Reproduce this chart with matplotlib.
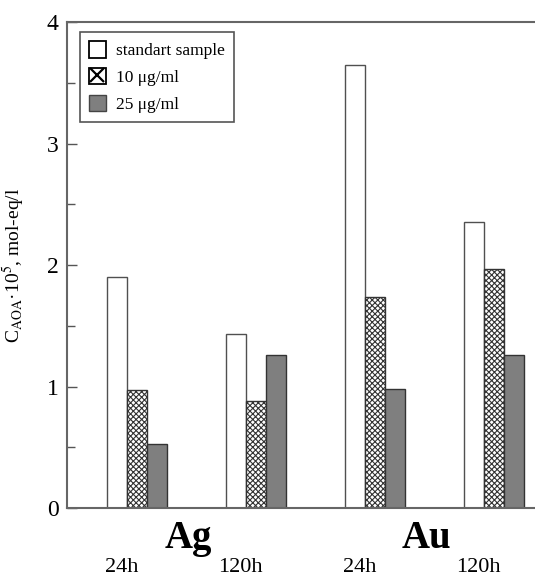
import numpy as np
import matplotlib
matplotlib.use("Agg")
import matplotlib.pyplot as plt
from matplotlib.patches import Patch
from matplotlib.lines import Line2D
from matplotlib.legend_handler import HandlerTuple

plt.rcParams['font.family'] = ['Liberation Serif', 'DejaVu Serif']
plt.rcParams['mathtext.fontset'] = 'stix'
plt.rcParams['hatch.linewidth'] = 0.8

# ==========================================================
# DATA
# ==========================================================
metals = ["Ag", "Au"]
times = ["24h", "120h", "24h", "120h"]
series = ["standart sample", "10 \u03bcg/ml", "25 \u03bcg/ml"]
standart = [1.90, 1.43, 3.65, 2.35]
c10 = [0.97, 0.88, 1.74, 1.97]
c25 = [0.53, 1.26, 0.98, 1.26]

# ==========================================================
# PLOT
# ==========================================================
fig = plt.figure(figsize=(5.35, 5.82), dpi=100)
ax = fig.add_axes([0.1252, 0.1271, 0.8935, 0.8351])

w = 0.168
x = np.arange(len(times))
ax.bar(x, standart, w, align='edge', color='white', edgecolor='#505050', linewidth=1)
ax.bar(x + w, c10, w, align='edge', color='white', edgecolor='#333333',
       hatch='xxxxxx', linewidth=1)
ax.bar(x + 2 * w, c25, w, align='edge', color='#7f7f7f', edgecolor='#333333', linewidth=1)

ax.set_xlim(-0.336, 3.68)
ax.set_ylim(0, 4)
ax.set_xticks([])
ax.set_yticks([0, 1, 2, 3, 4])
ax.set_yticks(np.arange(0.5, 4, 1), minor=True)
ax.tick_params(axis='y', which='major', direction='in', length=7, width=1,
               color='#555555', labelsize=17, pad=6)
ax.tick_params(axis='y', which='minor', direction='in', length=6, width=1,
               color='#555555')
ax.spines['right'].set_visible(False)
for s in ['left', 'top', 'bottom']:
    ax.spines[s].set_color('#666666')
    ax.spines[s].set_linewidth(1.5)

ax.set_ylabel("C$_{\\mathrm{AOA}}$\u00b710$^{5}$, mol-eq/l", fontsize=14)
ax.yaxis.set_label_coords(-0.084, 0.5)

trans = ax.get_xaxis_transform()
for i, t in enumerate(times):
    ax.text(i + 0.12, -0.123, t, transform=trans, ha='center', va='center', fontsize=16)
for k, m in enumerate(metals):
    ax.text(2 * k + 0.68, -0.063, m, transform=trans, ha='center', va='center',
            fontsize=28, fontweight='bold')

cross = Line2D([], [], marker='x', markersize=9.5, markeredgewidth=1.6,
               color='black', linestyle='none')
handles = [Patch(facecolor='white', edgecolor='black', linewidth=1.3),
           (Patch(facecolor='white', edgecolor='black', linewidth=1.3), cross),
           Patch(facecolor='#7f7f7f', edgecolor='#444444', linewidth=1)]
leg = ax.legend(handles, series, loc='upper left', bbox_to_anchor=(0.027, 0.979),
                borderaxespad=0, fontsize=12.5, handlelength=1.0, handleheight=1.1,
                handletextpad=0.6, labelspacing=0.5, fancybox=False,
                edgecolor='#555555', framealpha=1, borderpad=0.5,
                handler_map={tuple: HandlerTuple(ndivide=1, pad=0)})
leg.get_frame().set_linewidth(1.2)

fig.savefig("out.png", dpi=100)
